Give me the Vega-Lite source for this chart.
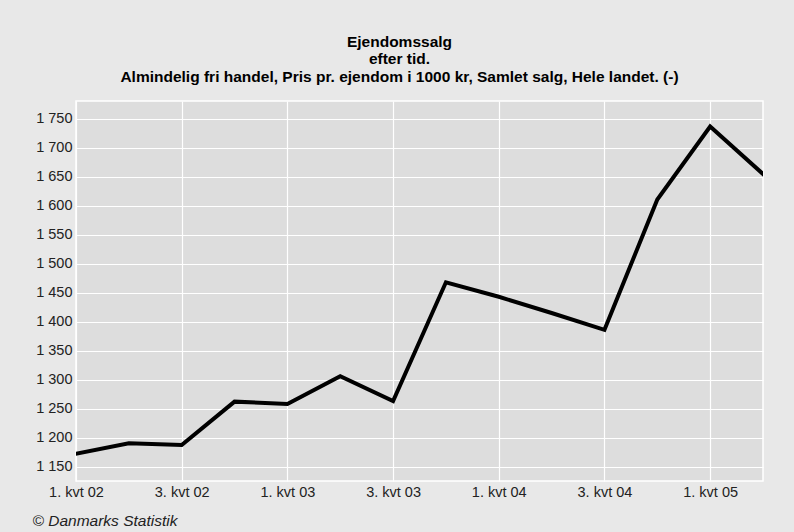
{
  "$schema": "https://vega.github.io/schema/vega-lite/v6.json",
  "width": 687,
  "height": 380,
  "autosize": {"type": "none"},
  "padding": {"left": 76, "top": 101, "right": 31, "bottom": 51},
  "background": "#e8e8e8",
  "title": {
    "text": ["Ejendomssalg", "efter tid.", "Almindelig fri handel, Pris pr. ejendom i 1000 kr, Samlet salg, Hele landet. (-)"],
    "font": "Liberation Sans",
    "fontSize": 15.5,
    "fontWeight": "bold",
    "color": "#000000",
    "lineHeight": 17.5,
    "anchor": "middle",
    "dx": -20,
    "offset": 16
  },
  "data": {
    "values": [
      {"kvartal": "1. kvt 02", "pris": 1172},
      {"kvartal": "2. kvt 02", "pris": 1190},
      {"kvartal": "3. kvt 02", "pris": 1187},
      {"kvartal": "4. kvt 02", "pris": 1262},
      {"kvartal": "1. kvt 03", "pris": 1258},
      {"kvartal": "2. kvt 03", "pris": 1306},
      {"kvartal": "3. kvt 03", "pris": 1263},
      {"kvartal": "4. kvt 03", "pris": 1468},
      {"kvartal": "1. kvt 04", "pris": 1443},
      {"kvartal": "2. kvt 04", "pris": 1415},
      {"kvartal": "3. kvt 04", "pris": 1386},
      {"kvartal": "4. kvt 04", "pris": 1611},
      {"kvartal": "1. kvt 05", "pris": 1737},
      {"kvartal": "2. kvt 05", "pris": 1655}
    ]
  },
  "mark": {"type": "line", "color": "#000000", "strokeWidth": 4, "strokeJoin": "miter", "strokeCap": "square", "clip": true},
  "encoding": {
    "x": {
      "field": "kvartal",
      "type": "ordinal",
      "sort": null,
      "scale": {"type": "point", "padding": 0},
      "axis": {
        "values": ["1. kvt 02", "3. kvt 02", "1. kvt 03", "3. kvt 03", "1. kvt 04", "3. kvt 04", "1. kvt 05"],
        "labelAngle": 0,
        "labelFont": "Liberation Sans",
        "labelFontSize": 14.5,
        "labelColor": "#222222",
        "labelPadding": 4,
        "ticks": false,
        "domain": false,
        "grid": true,
        "gridColor": "#ffffff",
        "gridWidth": 1.2,
        "title": "© Danmarks Statistik",
        "titleFont": "Liberation Sans",
        "titleFontSize": 15.5,
        "titleFontStyle": "italic",
        "titleFontWeight": "normal",
        "titleColor": "#222222",
        "titleAlign": "left",
        "titleAnchor": "start",
        "titleBaseline": "middle",
        "titleX": -44,
        "titleY": 39
      }
    },
    "y": {
      "field": "pris",
      "type": "quantitative",
      "scale": {"domain": [1125, 1781], "nice": false, "zero": false},
      "axis": {
        "values": [1150, 1200, 1250, 1300, 1350, 1400, 1450, 1500, 1550, 1600, 1650, 1700, 1750],
        "labelExpr": "replace(format(datum.value, ','), ',', ' ')",
        "labelFont": "Liberation Sans",
        "labelFontSize": 14.5,
        "labelColor": "#222222",
        "labelPadding": 4,
        "ticks": false,
        "domain": false,
        "grid": true,
        "gridColor": "#ffffff",
        "gridWidth": 1.2,
        "title": null
      }
    }
  },
  "config": {
    "view": {"fill": "#dddddd", "stroke": "#ffffff", "strokeWidth": 1.5}
  }
}
